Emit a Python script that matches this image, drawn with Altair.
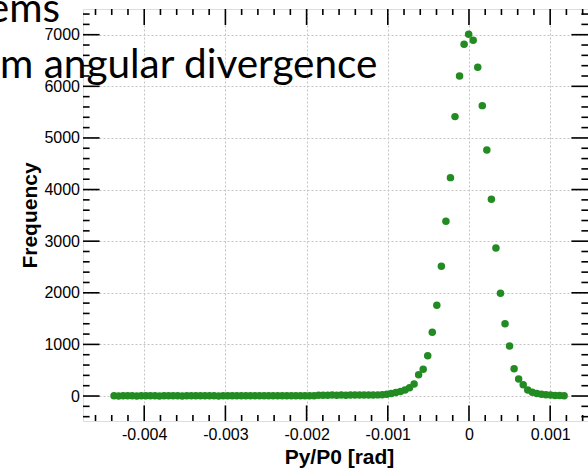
import altair as alt
import pandas as pd

# Histogram: 100 bins from -0.0044 to 0.0012 (bin width 0.000056)
bin_start = -0.0044
bin_width = 0.000056
counts = [
    3, 2, 3, 4, 3, 2, 3, 3, 4, 3,
    2, 3, 4, 3, 3, 2, 3, 4, 3, 3,
    3, 4, 3, 2, 3, 3, 4, 3, 3, 4,
    3, 4, 4, 3, 4, 4, 5, 4, 4, 5,
    5, 4, 5, 5, 6, 16, 17, 16, 18, 17,
    18, 17, 19, 18, 19, 20, 19, 21, 22, 25,
    33, 48, 68, 87, 116, 160, 233, 413, 517, 781,
    1234, 1758, 2513, 3386, 4231, 5413, 6202, 6816, 7010, 6893,
    6370, 5626, 4767, 3812, 2868, 1990, 1401, 969, 529, 329,
    220, 116, 72, 48, 36, 25, 18, 12, 8, 5,
]
centers = [bin_start + (i + 0.5) * bin_width for i in range(len(counts))]

x_major = [-0.004, -0.003, -0.002, -0.001, 0.0, 0.001]
y_major = [0, 1000, 2000, 3000, 4000, 5000, 6000, 7000]
x_minor = [round(-0.0046 + 0.0002 * i, 4) for i in range(31)]
y_minor = [-400 + 200 * i for i in range(40)]

title_line1 = "ems"
title_line2 = "m angular divergence"

W, H = 505, 412
x_dom = [-0.004754, 0.001466]
y_dom = [-484, 7498]
xs = alt.Scale(domain=x_dom, nice=False, zero=False)
ys = alt.Scale(domain=y_dom, nice=False, zero=False)

x_axis = alt.Axis(values=x_major, title="Py/P0 [rad]", ticks=False, tickSize=0,
                  domain=False, grid=True, gridColor="#c4c4c4", gridDash=[2, 2],
                  labelFont="Liberation Sans", labelFontSize=16, labelColor="black",
                  labelPadding=5, labelFlush=False,
                  labelExpr="datum.value == 0 ? '0' : (datum.value < 0 ? '-' : '') + format(abs(datum.value), '.3f')",
                  titleFont="Liberation Sans", titleFontSize=21, titleFontWeight="bold",
                  titleColor="black", titleX=256, titleY=42, titleAlign="center",
                  titleBaseline="alphabetic")
y_axis = alt.Axis(values=y_major, title="Frequency", ticks=False, tickSize=0,
                  domain=False, grid=True, gridColor="#c4c4c4", gridDash=[2, 2],
                  labelFont="Liberation Sans", labelFontSize=16, labelColor="black",
                  labelPadding=3.5, labelFlush=False,
                  labelExpr="format(datum.value, 'd')",
                  titleFont="Liberation Sans", titleFontSize=21, titleFontWeight="bold",
                  titleColor="black", titleAngle=270, titleX=-47, titleY=206,
                  titleAlign="center", titleBaseline="alphabetic")

df = pd.DataFrame({"x": centers, "y": counts})

points = alt.Chart(df).mark_circle(size=56, color="#228b22", opacity=1).encode(
    x=alt.X("x:Q", scale=xs, axis=x_axis),
    y=alt.Y("y:Q", scale=ys, axis=y_axis),
)

def yticks(vals, x0, x1):
    return alt.Chart(pd.DataFrame({"y": vals})).mark_rule(color="black", strokeWidth=1.6).encode(
        y=alt.Y("y:Q", scale=ys, axis=y_axis), x=alt.value(x0), x2=alt.value(x1))

def xticks(vals, y0, y1):
    return alt.Chart(pd.DataFrame({"x": vals})).mark_rule(color="black", strokeWidth=1.6).encode(
        x=alt.X("x:Q", scale=xs, axis=x_axis), y=alt.value(y0), y2=alt.value(y1))

ymin_only = [v for v in y_minor if v not in y_major]
xmin_only = [v for v in x_minor if round(v, 4) not in [round(m, 4) for m in x_major]]

tick_layers = [
    yticks(y_major, 0, 16.6), yticks(ymin_only, 0, 6.6),
    yticks(y_major, W - 16.6, W), yticks(ymin_only, W - 6.6, W),
    xticks(x_major, H - 15.6, H), xticks(xmin_only, H - 6, H),
    xticks(x_major, 0, 16), xticks(xmin_only, 0, 6),
]

txt1 = alt.Chart(pd.DataFrame({"t": [title_line1]})).mark_text(
    font="Lato", fontSize=40.5, align="right", baseline="alphabetic", color="black"
).encode(text="t:N", x=alt.value(60 - 83), y=alt.value(22 - 9))
txt2 = alt.Chart(pd.DataFrame({"t": [title_line2]})).mark_text(
    font="Lato", fontSize=40.5, align="left", baseline="alphabetic", color="black"
).encode(text="t:N", x=alt.value(0 - 83), y=alt.value(78 - 9))

chart = alt.layer(points, *tick_layers, txt1, txt2).properties(
    width=W, height=H,
    autosize=alt.AutoSizeParams(type="none"),
    padding={"left": 83, "top": 9, "right": 0, "bottom": 47},
).configure_view(stroke="black", strokeWidth=2).configure(background="white")

chart.save("out.html", embed_options={"renderer": "svg", "actions": False})
